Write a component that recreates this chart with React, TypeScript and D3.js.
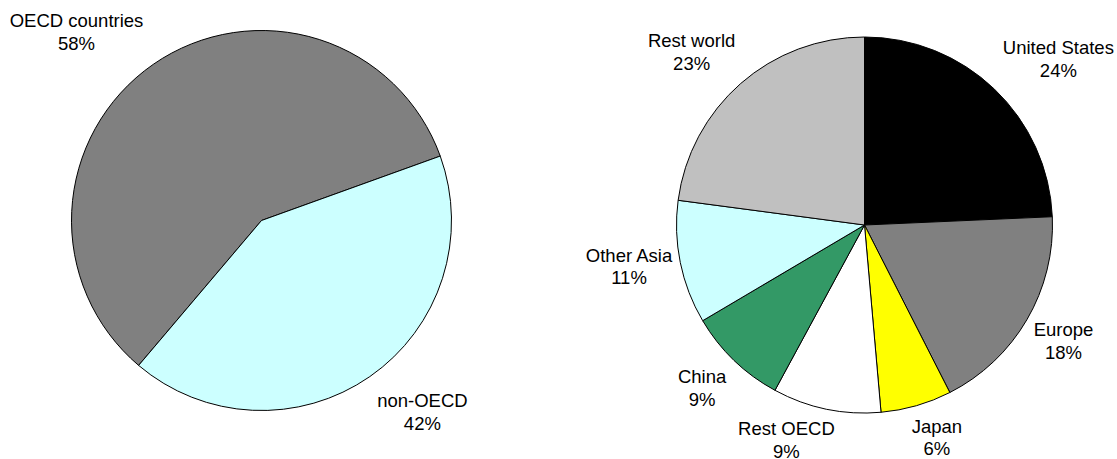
import React from "react";
import * as d3 from "d3";

// ---- data ----
const leftCategories = ["OECD countries", "non-OECD"];
const leftValues = [58.3, 41.7];
const leftColors = ["#808080", "#CCFFFF"];

const rightCategories = ["United States", "Europe", "Japan", "Rest OECD", "China", "Other Asia", "Rest world"];
const rightValues = [24.3, 18.2, 6.1, 9.3, 8.6, 10.6, 22.9];
const rightColors = ["#000000", "#808080", "#FFFF00", "#FFFFFF", "#339966", "#CCFFFF", "#C0C0C0"];

// ---- label layout (angle shift from slice middle in degrees, distance from centre) ----
const leftLabelShift = [-9.0, -6.0];
const leftLabelDist = [267.5, 246.4];
const rightLabelShift = [4.9, -1.1, -3.2, 8.7, 1.8, 2.7, -3.0];
const rightLabelDist = [258.3, 227.9, 220.0, 224.0, 226.9, 238.3, 247.9];

const W = 1117;
const H = 459;
const FONT = "'Liberation Sans', Arial, Helvetica, sans-serif";
const FS = 18.5;
const LINE = 22.7;

type PieProps = {
  cats: string[];
  vals: number[];
  colors: string[];
  cx: number;
  cy: number;
  r: number;
  startDeg: number;
  shift: number[];
  dist: number[];
};

function Pie({ cats, vals, colors, cx, cy, r, startDeg, shift, dist }: PieProps) {
  const start = (startDeg * Math.PI) / 180;
  const pie = d3
    .pie<number>()
    .sort(null)
    .value((d) => d)
    .startAngle(start)
    .endAngle(start + 2 * Math.PI);
  const arcs = pie(vals);
  const arc = d3.arc<d3.PieArcDatum<number>>().innerRadius(0).outerRadius(r);
  const total = d3.sum(vals);
  return (
    <g transform={`translate(${cx},${cy})`}>
      {arcs.map((a, i) => (
        <path key={i} d={arc(a) || ""} fill={colors[i]} stroke="#000" strokeWidth={1} strokeLinejoin="round" />
      ))}
      {arcs.map((a, i) => {
        const mid = (a.startAngle + a.endAngle) / 2 + (shift[i] * Math.PI) / 180;
        const lx = dist[i] * Math.sin(mid);
        const ly = -dist[i] * Math.cos(mid);
        const pct = Math.round((vals[i] / total) * 100) + "%";
        return (
          <text key={"t" + i} x={lx} y={ly} textAnchor="middle" fontFamily={FONT} fontSize={FS} fill="#000">
            <tspan x={lx}>{cats[i]}</tspan>
            <tspan x={lx} dy={LINE}>
              {pct}
            </tspan>
          </text>
        );
      })}
    </g>
  );
}

export default function App() {
  return (
    <div style={{ position: "absolute", left: 0, top: 0, width: W, height: H, background: "#fff" }}>
      <svg width={W} height={H} viewBox={`0 0 ${W} ${H}`} style={{ display: "block" }}>
        <rect width={W} height={H} fill="#fff" />
        <Pie
          cats={leftCategories}
          vals={leftValues}
          colors={leftColors}
          cx={261.5}
          cy={220.5}
          r={190}
          startDeg={220.3}
          shift={leftLabelShift}
          dist={leftLabelDist}
        />
        <Pie
          cats={rightCategories}
          vals={rightValues}
          colors={rightColors}
          cx={864.5}
          cy={225}
          r={188}
          startDeg={0}
          shift={rightLabelShift}
          dist={rightLabelDist}
        />
      </svg>
    </div>
  );
}
